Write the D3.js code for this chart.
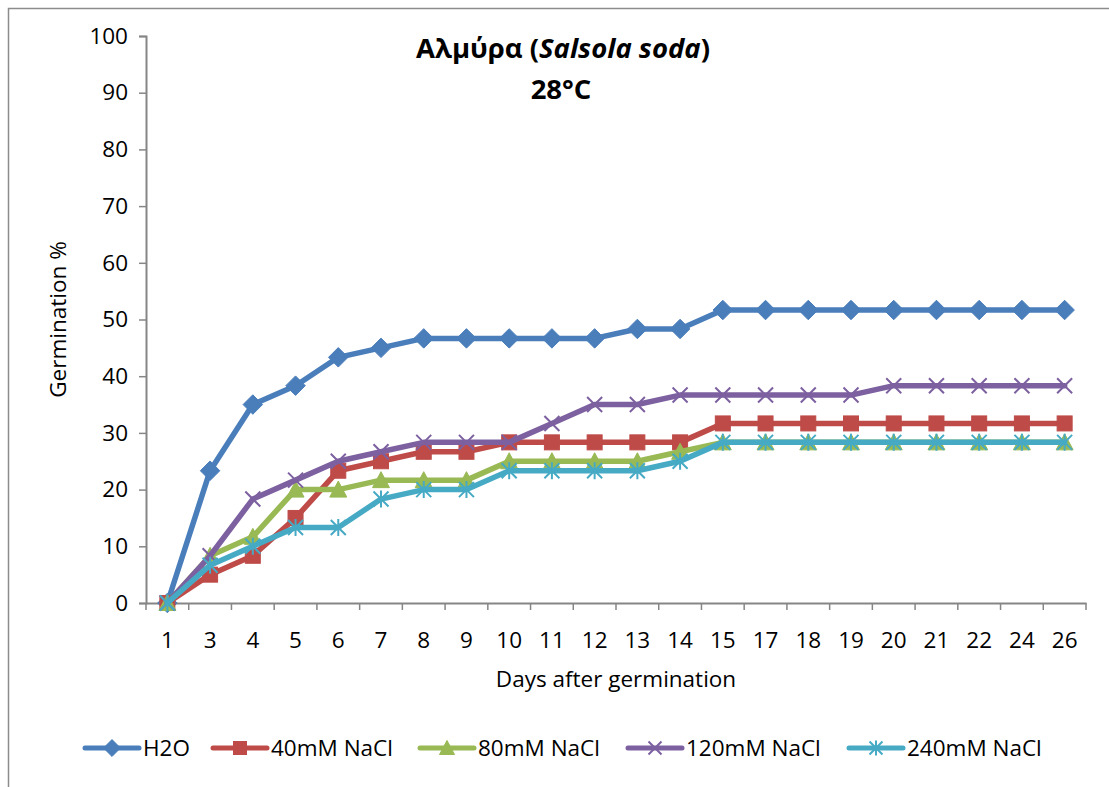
<!DOCTYPE html>
<html>
<head>
<meta charset="utf-8">
<script src="https://cdn.jsdelivr.net/npm/d3@7"></script>
<style>
  html, body { margin: 0; padding: 0; background: #fff; }
  svg { display: block; font-family: "Open Sans", "Noto Sans", sans-serif; }
</style>
</head>
<body>
<svg id="chart" width="1109" height="787"></svg>
<script>
// Days of observation (category axis)
const days = ["1","3","4","5","6","7","8","9","10","11","12","13","14","15","17","18","19","20","21","22","24","26"];

// Cumulative germination (%) per treatment
const h2o     = [0, 23.33, 35, 38.33, 43.33, 45, 46.67, 46.67, 46.67, 46.67, 46.67, 48.33, 48.33, 51.67, 51.67, 51.67, 51.67, 51.67, 51.67, 51.67, 51.67, 51.67];
const nacl40  = [0, 5, 8.33, 15, 23.33, 25, 26.67, 26.67, 28.33, 28.33, 28.33, 28.33, 28.33, 31.67, 31.67, 31.67, 31.67, 31.67, 31.67, 31.67, 31.67, 31.67];
const nacl80  = [0, 8.33, 11.67, 20, 20, 21.67, 21.67, 21.67, 25, 25, 25, 25, 26.67, 28.33, 28.33, 28.33, 28.33, 28.33, 28.33, 28.33, 28.33, 28.33];
const nacl120 = [0, 8.33, 18.33, 21.67, 25, 26.67, 28.33, 28.33, 28.33, 31.67, 35, 35, 36.67, 36.67, 36.67, 36.67, 36.67, 38.33, 38.33, 38.33, 38.33, 38.33];
const nacl240 = [0, 6.67, 10, 13.33, 13.33, 18.33, 20, 20, 23.33, 23.33, 23.33, 23.33, 25, 28.33, 28.33, 28.33, 28.33, 28.33, 28.33, 28.33, 28.33, 28.33];

const seriesNames = ["H2O", "40mM NaCl", "80mM NaCl", "120mM NaCl", "240mM NaCl"];
const yTicks = [0, 10, 20, 30, 40, 50, 60, 70, 80, 90, 100];

const series = [
  { name: seriesNames[0], values: h2o,     color: "#4A7EBB", marker: "diamond" },
  { name: seriesNames[1], values: nacl40,  color: "#BE4B48", marker: "square" },
  { name: seriesNames[2], values: nacl80,  color: "#98B954", marker: "triangle" },
  { name: seriesNames[3], values: nacl120, color: "#7D60A0", marker: "cross" },
  { name: seriesNames[4], values: nacl240, color: "#46AAC5", marker: "star" }
];

const svg = d3.select("#chart");
const axisColor = "#868686";
const labelSize = "22.5px";

// Outer chart frame (runs off the right and bottom edges)
svg.append("rect")
  .attr("x", 8.5).attr("y", 8.5)
  .attr("width", 1120).attr("height", 800)
  .attr("fill", "none").attr("stroke", "#8c8c8c").attr("stroke-width", 1.5);

const plot = { left: 146, right: 1086, top: 36, bottom: 603 };

const x = d3.scaleBand().domain(days).range([plot.left, plot.right]).padding(0);
const y = d3.scaleLinear().domain([0, 100]).range([plot.bottom, plot.top]);
const cx = d => x(d) + x.bandwidth() / 2;

// Y axis
const yAxis = d3.axisLeft(y).tickValues(yTicks).tickSize(7).tickPadding(11);
const gy = svg.append("g").attr("transform", `translate(${plot.left},0)`).call(yAxis);
gy.select(".domain").attr("stroke", axisColor).attr("stroke-width", 2);
gy.selectAll(".tick line").attr("stroke", axisColor).attr("stroke-width", 1.5);
gy.selectAll(".tick text").attr("fill", "#000").style("font-size", labelSize)
  .style("font-family", "'Open Sans', sans-serif");

// X axis: labels centred in each category, ticks on category boundaries
const xAxis = d3.axisBottom(x).tickSize(0).tickPadding(29).tickSizeOuter(0);
const gx = svg.append("g").attr("transform", `translate(0,${plot.bottom})`).call(xAxis);
gx.select(".domain").attr("stroke", axisColor).attr("stroke-width", 2);
gx.selectAll(".tick text").attr("fill", "#000").style("font-size", labelSize)
  .style("font-family", "'Open Sans', sans-serif");
const bounds = days.map(d => x(d)).concat([x(days[days.length - 1]) + x.bandwidth()]);
gx.selectAll(".bound").data(bounds).enter().append("line")
  .attr("class", "bound")
  .attr("x1", d => d).attr("x2", d => d)
  .attr("y1", 0).attr("y2", 7)
  .attr("stroke", axisColor).attr("stroke-width", 1.5);

// Axis titles
svg.append("text")
  .attr("x", (plot.left + plot.right) / 2).attr("y", 687)
  .attr("text-anchor", "middle").style("font-size", labelSize)
  .text("Days after germination");
svg.append("text")
  .attr("transform", `translate(66,${(plot.top + plot.bottom) / 2}) rotate(-90)`)
  .attr("text-anchor", "middle").style("font-size", labelSize)
  .text("Germination %");

// Title
const title = svg.append("text")
  .attr("x", 563).attr("y", 58)
  .attr("text-anchor", "middle")
  .style("font-size", "27.5px").style("font-weight", "bold");
title.append("tspan").text("Αλμύρα (");
title.append("tspan").style("font-style", "italic").text("Salsola soda");
title.append("tspan").text(")");
svg.append("text")
  .attr("x", 561).attr("y", 99)
  .attr("text-anchor", "middle")
  .style("font-size", "27.5px").style("font-weight", "bold")
  .text("28°C");

// Marker drawing
function drawMarker(g, type, color, px, py, s) {
  const h = s / 2;
  if (type === "diamond") {
    const d = h * 1.3;
    g.append("path")
      .attr("d", `M${px},${py - d}L${px + d},${py}L${px},${py + d}L${px - d},${py}Z`)
      .attr("fill", color).attr("stroke", color).attr("stroke-width", 1);
  } else if (type === "square") {
    g.append("rect")
      .attr("x", px - h).attr("y", py - h).attr("width", s).attr("height", s)
      .attr("fill", color).attr("stroke", color).attr("stroke-width", 1);
  } else if (type === "triangle") {
    g.append("path")
      .attr("d", `M${px},${py - h - 1}L${px + h + 1},${py + h}L${px - h - 1},${py + h}Z`)
      .attr("fill", color).attr("stroke", color).attr("stroke-width", 1);
  } else if (type === "cross") {
    g.append("path")
      .attr("d", `M${px - h},${py - h}L${px + h},${py + h}M${px - h},${py + h}L${px + h},${py - h}`)
      .attr("stroke", color).attr("stroke-width", 2).attr("fill", "none");
  } else if (type === "star") {
    g.append("path")
      .attr("d", `M${px - h},${py - h}L${px + h},${py + h}M${px - h},${py + h}L${px + h},${py - h}M${px},${py - h - 1}L${px},${py + h + 1}`)
      .attr("stroke", color).attr("stroke-width", 2).attr("fill", "none");
  }
}

const line = d3.line().x((v, i) => cx(days[i])).y(v => y(v));

series.forEach(s => {
  const g = svg.append("g");
  g.append("path")
    .datum(s.values)
    .attr("d", line)
    .attr("fill", "none")
    .attr("stroke", s.color)
    .attr("stroke-width", 5.5)
    .attr("stroke-linejoin", "round")
    .attr("stroke-linecap", "round");
  s.values.forEach((v, i) => drawMarker(g, s.marker, s.color, cx(days[i]), y(v), 15));
});

// Legend
const legendX = [85, 213, 420, 628, 849];
const legendY = 748;
series.forEach((s, i) => {
  const g = svg.append("g");
  const x0 = legendX[i];
  g.append("line")
    .attr("x1", x0).attr("x2", x0 + 54)
    .attr("y1", legendY).attr("y2", legendY)
    .attr("stroke", s.color).attr("stroke-width", 5).attr("stroke-linecap", "round");
  drawMarker(g, s.marker, s.color, x0 + 27, legendY, 13);
  g.append("text")
    .attr("x", x0 + 58).attr("y", legendY + 8)
    .style("font-size", labelSize)
    .text(s.name);
});
</script>
</body>
</html>
